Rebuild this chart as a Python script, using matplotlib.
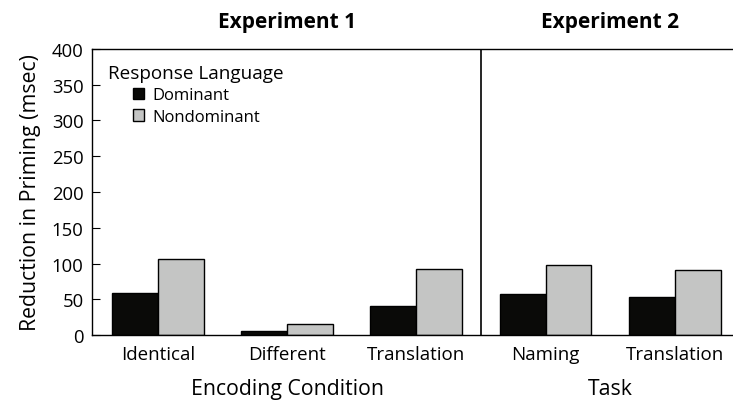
import numpy as np
import matplotlib.pyplot as plt
from matplotlib.patches import Patch

plt.rcParams['font.family'] = ['Open Sans', 'DejaVu Sans']

# data
conditions = ['Identical', 'Different', 'Translation', 'Naming', 'Translation']
dominant = [59, 5, 40, 57, 53]
nondominant = [106, 16, 93, 98, 91]

c_dom = '#0a0a08'
c_non = '#c4c5c4'

fig = plt.figure(figsize=(7.33, 4.02), dpi=100)
ax = fig.add_axes([0.1255, 0.164, 0.8745, 0.712])

x = np.arange(len(conditions))
w = 0.355
ax.bar(x - w/2, dominant, w, color=c_dom, edgecolor='black', linewidth=1.0)
ax.bar(x + w/2, nondominant, w, color=c_non, edgecolor='black', linewidth=1.0)

ax.set_xlim(-0.51, 4.45)
ax.set_ylim(0, 400)
ax.set_yticks(np.arange(0, 401, 50))
ax.set_xticks(x)
ax.set_xticklabels(conditions, fontsize=13.5)
ax.tick_params(axis='x', length=0, pad=7)
ax.tick_params(axis='y', direction='in', length=6, labelsize=13.3, pad=6)
ax.spines['right'].set_visible(False)
for s in ['left', 'top', 'bottom']:
    ax.spines[s].set_linewidth(1.0)

# divider between experiments
ax.axvline(2.5, color='black', linewidth=1.2)

ax.set_ylabel('Reduction in Priming (msec)', fontsize=15.3, labelpad=8)

# experiment titles and axis labels
ax.text(1, 1.06, 'Experiment 1', transform=ax.get_xaxis_transform(),
        ha='center', va='bottom', fontsize=15, fontweight='bold')
ax.text(3.5, 1.06, 'Experiment 2', transform=ax.get_xaxis_transform(),
        ha='center', va='bottom', fontsize=15, fontweight='bold')
ax.text(1, -0.15, 'Encoding Condition', transform=ax.get_xaxis_transform(),
        ha='center', va='top', fontsize=15.3)
ax.text(3.5, -0.15, 'Task', transform=ax.get_xaxis_transform(),
        ha='center', va='top', fontsize=15.3)

# legend
ax.text(-0.386, 366, 'Response Language', fontsize=13.6, va='center', ha='left')
handles = [Patch(facecolor=c_dom, edgecolor='black', label='Dominant'),
           Patch(facecolor=c_non, edgecolor='black', label='Nondominant')]
ax.legend(handles=handles, loc='upper left', bbox_to_anchor=(0.064, 0.865),
          frameon=False, fontsize=12, handlelength=0.65, handleheight=0.65,
          handletextpad=0.5, labelspacing=0.32, borderaxespad=0, borderpad=0)

fig.savefig('out.png', dpi=100)
